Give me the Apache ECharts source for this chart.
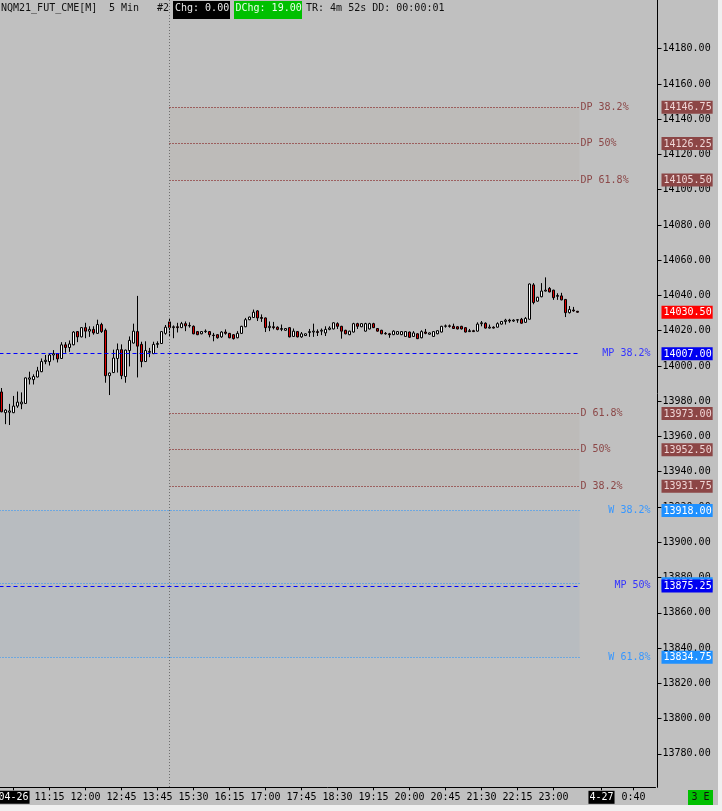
<!DOCTYPE html>
<html><head><meta charset="utf-8">
<script src="https://cdn.jsdelivr.net/npm/echarts@6/dist/echarts.min.js"></script>
<style>html,body{margin:0;padding:0;background:#f0f0f0;overflow:hidden}#c{position:absolute;left:0;top:0;width:718px;height:805px;}</style>
</head><body><div id="c"></div>
<script>
// ---- categories (5-minute bars) ----
const sessionA = ['10:15','10:20','10:25','10:30','10:35','10:40','10:45','10:50','10:55','11:00','11:05','11:10','11:15','11:20','11:25','11:30','11:35','11:40','11:45','11:50','11:55','12:00','12:05','12:10','12:15','12:20','12:25','12:30','12:35','12:40','12:45','12:50','12:55','13:00','13:05','13:10','13:30','13:35','13:40','13:45','13:50','13:55'];
const sessionB = ['15:00','15:05','15:10','15:15','15:20','15:25','15:30','15:35','15:40','15:45','15:50','15:55','16:00','16:05','16:10','16:15','16:20','16:25','16:30','16:35','16:40','16:45','16:50','16:55','17:00','17:05','17:10','17:15','17:20','17:25','17:30','17:35','17:40','17:45','17:50','17:55','18:00','18:05','18:10','18:15','18:20','18:25','18:30','18:35','18:40','18:45','18:50','18:55','19:00','19:05','19:10','19:15','19:20','19:25','19:30','19:35','19:40','19:45','19:50','19:55','20:00','20:05','20:10','20:15','20:20','20:25','20:30','20:35','20:40','20:45','20:50','20:55','21:00','21:05','21:10','21:15','21:20','21:25','21:30','21:35','21:40','21:45','21:50','21:55','22:00','22:05','22:10','22:15','22:20','22:25','22:30','22:35','22:40','22:45','22:50','22:55','23:00','23:05','23:10','23:15','23:20','23:25','23:30','23:35','23:40','23:45','23:50','23:55','0:00','0:05','0:10','0:15','0:20','0:25','0:30','0:35','0:40','0:45','0:50','0:55','1:00','1:05'];
const categories = sessionA.concat(sessionB);

// ---- x-axis labels ----
const timeLabels = ['11:15','12:00','12:45','13:45','15:30','16:15','17:00','17:45','18:30','19:15','20:00','20:45','21:30','22:15','23:00','0:40'];
const dateLabelAt = ['10:30','0:00'];
const dateLabelText = ['04-26','4-27'];

// ---- OHLC ----
const opens = [13985.25,13973.5,13973.75,13973.5,13977.25,13978.5,13978.75,13992.5,13992.25,13993.75,13996.75,14002.5,14002.5,14006.25,14007,14004.25,14012,14010.5,14012,14019.5,14016.5,14021.75,14019.75,14020.75,14018.5,14023.5,14020.25,13994.5,13996.25,14004.25,14009.25,13994,14008.75,14013,14019.5,14012.25,14002.5,14007.75,14007,14012.25,14012.75,14018.5,14025,14021.75,14022.25,14021.75,14024,14022.75,14022.5,14019.5,14018.25,14019.5,14019.5,14017.5,14017.75,14016.5,14019.25,14018.5,14017.75,14016,14018.5,14022.25,14026.25,14027.5,14031.25,14027.5,14027.25,14021.75,14022.25,14022,14020.75,14020.25,14021.75,14016.75,14019.5,14016.5,14017.25,14019,14019.25,14019.5,14019.75,14018.75,14020.75,14021,14024,14022.5,14020.25,14017.75,14019.25,14024,14022.25,14019.75,14021,14024,14021.25,14020.25,14018.5,14018.25,14017.75,14018,14017.75,14016.75,14019.25,14016.75,14018.25,14016,14019.25,14018,14016.75,14018.25,14019.25,14022.5,14022.75,14022.5,14022.25,14022.5,14021.75,14019.5,14020,14019.75,14024,14024.25,14021.5,14022,14022,14023.75,14025.25,14026,14025.5,14026,14026.5,14024.75,14026.5,14046,14036.75,14039.25,14042.5,14044,14043,14039.5,14039.75,14037.75,14030.25,14031.75,14031];
const closes = [13974,13975,13974.5,13977.25,13979.5,13979.5,13993.25,13993.25,13994,13997.25,14002.5,14003.25,14006.25,14007,14004,14012,14010.5,14012.5,14019.25,14016.5,14021.75,14019.75,14020.75,14018.75,14023.5,14019.5,13994.5,13996,14004.5,14009.25,13994.5,14009,14014.5,14019.75,14011.25,14002.5,14008.75,14008.25,14012.25,14012.75,14019.5,14022,14021.75,14022.25,14021.75,14024,14022.75,14023,14018.25,14017.75,14019.5,14019.75,14017.75,14017.25,14016,14019.25,14018.5,14016,14015.5,14018.5,14022.5,14026.25,14027.75,14030.5,14027.25,14027,14021.75,14022.5,14021.75,14020.75,14021.25,14021.25,14016.5,14019.75,14016.5,14018.25,14018.25,14019.5,14019.75,14019,14020.25,14020.75,14021.5,14024.5,14022.5,14019.75,14018.25,14019.75,14024,14022.5,14024,14024,14024,14021.75,14019.75,14018.25,14018.25,14017.75,14019.75,14019.5,14019.5,14019.5,14016.25,14018.75,14015.5,14019.5,14018.5,14018.75,14019.5,14020,14022.5,14022.75,14022.5,14021.25,14021,14021,14019.25,14020,14019.5,14023.75,14024.5,14021.5,14022,14021.5,14024,14025.25,14026,14025.5,14026,14026.25,14024.25,14027,14046.5,14036,14039,14042.5,14043,14042,14038.75,14040,14037.5,14030.25,14032,14031.25,14030.5];
const lows = [13973.75,13967,13966.5,13973.25,13976.25,13975.5,13978.5,13989.5,13989.5,13993.5,13996.5,14001,14000.25,14003.25,14002,14004,14007.5,14008,14011.75,14013.5,14016.25,14015.75,14016.5,14017.75,14018.25,14018.75,13990.5,13983.5,13996,13996.25,13992.5,13990.5,13999.75,14012.75,13993.5,13999.25,14002.25,14005,14006.75,14010.25,14012.5,14017.75,14016.75,14015.75,14019,14021.5,14019.75,14021.75,14018,14017.5,14018,14018.75,14016.25,14014,14015.5,14016,14017.75,14015.75,14015,14015.75,14018.25,14022,14026,14027.25,14025.5,14025,14019.25,14019.75,14020.75,14020.25,14019.75,14020,14016.25,14016.5,14016.25,14016,14017,14016.5,14016.5,14017,14017.5,14017,14020.25,14020.75,14021,14015.5,14018,14017.5,14019,14021,14022,14019.5,14020.75,14021.5,14019.5,14018,14017.75,14016,14017.5,14017.75,14017.5,14016.5,14016,14016.5,14015.25,14015.75,14018,14017.75,14016.5,14018,14019,14021.75,14021.75,14021,14020.75,14020.75,14019,14019.25,14019.25,14019.5,14022.5,14021.25,14021.25,14021.25,14021.75,14023.5,14023.5,14024.5,14025,14024.5,14024,14024.5,14026.25,14035,14036.5,14039,14042.25,14041.75,14037.5,14037.5,14037.25,14027.75,14029.75,14030.75,14030.25];
const highs = [13987.5,13975.5,13978.5,13983,13985.5,13985,13993.5,13996.75,13995.25,13999.5,14004.25,14006.25,14007,14009,14007.25,14013.5,14013.5,14014.5,14019.75,14019.75,14022,14024.5,14022.5,14022.5,14026.25,14024.5,14021.25,13996.25,14009.25,14012.75,14012.25,14009.25,14016.75,14024,14039.75,14013.75,14014,14010.25,14013.75,14014,14019.75,14023.25,14027.25,14023,14024.5,14025,14025.25,14024.75,14023,14019.75,14019.75,14020.75,14019.75,14018.75,14018,14019.75,14020.75,14018.75,14018,14019.75,14022.75,14027.25,14028,14032,14031.75,14029.25,14027.5,14025.25,14025,14022.5,14023.5,14021.5,14022,14021.25,14019.75,14019.25,14018.5,14021,14024,14020.75,14021.25,14022.5,14022.5,14024.75,14024.75,14022.75,14020.5,14020,14024.5,14024.5,14024.25,14024.5,14024.5,14024.5,14021.5,14020.5,14019.25,14018.75,14020.25,14019.75,14019.75,14019.75,14019.5,14019.75,14018.5,14020.25,14021,14019,14019.75,14020.25,14022.75,14023.5,14023.5,14024,14022.5,14022.75,14022,14021,14020.5,14024.75,14025.5,14024.75,14023.5,14022.5,14024.75,14025.5,14026.75,14026.75,14026.5,14026.5,14027.25,14027.75,14046.75,14047,14039.25,14047,14050.25,14044.75,14043.25,14041.25,14041.5,14038,14034,14033.5,14031.25];

// ---- levels ----
const levelNames  = ['DP 38.2%','DP 50%','DP 61.8%','MP 38.2%','D 61.8%','D 50%','D 38.2%','W 38.2%','W 50%','MP 50%','W 61.8%'];
const levelPrices = [14146.75,14126.25,14105.50,14007.00,13973.00,13952.50,13931.75,13918.00,13876.50,13875.25,13834.75];
const priceTicks  = [13780,13800,13820,13840,13860,13880,13900,13920,13940,13960,13980,14000,14020,14040,14060,14080,14100,14120,14140,14160,14180];

const MONO = 'DejaVu Sans Mono';
const kindStyle = {
  DP: {line:'#7a0000', type:[1,2], text:'#8b4747', box:'#8c4646', boxText:'#f0d6d6'},
  D:  {line:'#7a0000', type:[1,2], text:'#8b4747', box:'#8c4646', boxText:'#f0d6d6'},
  MP: {line:'#0000ff', type:[4,3], text:'#3434ff', box:'#0000f0', boxText:'#ffffff'},
  W:  {line:'#1e90ff', type:[1,2], text:'#3797ff', box:'#1e90ff', boxText:'#ffffff'}
};
const kindOf = n => n.split(' ')[0];

const N = categories.length;
const sessionStart = categories.indexOf('15:00') + 0.5;
const levelEnd = opens.length;
const lastClose = closes[closes.length - 1];
const Y_MIN = 13761, Y_MAX = 14207.6;

const candleData = opens.map((o, i) => [o, closes[i], lows[i], highs[i]]);

const markLines = levelNames.map((name, i) => {
  const k = kindOf(name), s = kindStyle[k];
  const x0 = (k === 'DP' || k === 'D') ? sessionStart : 0;
  const right = (k === 'MP' || k === 'W');
  const hideLabel = name === 'W 50%';
  return [{
    coord: [x0, levelPrices[i]],
    lineStyle: {color: s.line, type: s.type, width: 1},
    label: right ? {
      show: !hideLabel, position: 'end', distance: 0,
      formatter: '{r|' + name + '}',
      rich: {r: {width: 71, align: 'right', color: s.text, fontFamily: MONO, fontSize: 10}}
    } : {
      show: true, position: 'end', distance: 1, formatter: name,
      color: s.text, fontFamily: MONO, fontSize: 10
    }
  }, {coord: [levelEnd, levelPrices[i]]}];
});
markLines.push([{coord:[sessionStart, Y_MAX], lineStyle:{color:'#6e6e6e', type:[1,2], width:1}, label:{show:false}}, {coord:[sessionStart, Y_MIN]}]);

const zoneDef = [
  ['DP 38.2%','DP 61.8%','#bdbbb9'],
  ['D 61.8%','D 38.2%','#bdbbb9'],
  ['W 38.2%','W 61.8%','#b8bcc0']
];
const markAreas = zoneDef.map(z => {
  const a = levelPrices[levelNames.indexOf(z[0])], b = levelPrices[levelNames.indexOf(z[1])];
  const x0 = kindOf(z[0]) === 'W' ? 0 : sessionStart;
  return [{coord:[x0, a], itemStyle:{color:z[2]}}, {coord:[levelEnd, b]}];
});

// price boxes on the axis
const boxPrices = [], boxStyles = [];
levelNames.forEach((n, i) => { boxPrices.push(levelPrices[i]); boxStyles.push(kindOf(n)); });
boxPrices.splice(3, 0, lastClose); boxStyles.splice(3, 0, 'LAST');
const rich = {};
Object.keys(kindStyle).forEach(k => {
  rich[k] = {backgroundColor: kindStyle[k].box, color: kindStyle[k].boxText, padding: [2,1,1,2], fontFamily: MONO, fontSize: 10, lineHeight: 10};
});
rich.LAST = {backgroundColor:'#ff0000', color:'#ffffff', padding:[2,1,1,2], fontFamily: MONO, fontSize: 10, lineHeight: 10};

const labelShown = (idx, val) => timeLabels.indexOf(val) >= 0 || dateLabelAt.indexOf(val) >= 0;

const chart = echarts.init(document.getElementById('c'));
chart.setOption({
  backgroundColor: '#c0c0c0',
  animation: false,
  grid: {left: -0.5, top: 0, width: 656, height: 787.3, containLabel: false, outerBoundsMode: 'none'},
  xAxis: [{
    type: 'category', data: categories, boundaryGap: true,
    axisLine: {show: true, onZero: false, lineStyle: {color: '#000', width: 1}},
    axisTick: {show: true, alignWithLabel: true, interval: labelShown, length: 3, lineStyle: {color: '#000'}},
    axisLabel: {
      interval: labelShown, margin: 5, color: '#000', fontFamily: MONO, fontSize: 10, hideOverlap: false,
      formatter: v => {
        const d = dateLabelAt.indexOf(v);
        return d >= 0 ? '{d|' + dateLabelText[d] + '}' : v;
      },
      rich: {d: {backgroundColor: '#000', color: '#ffffff', padding: [2,1,1,1], fontFamily: MONO, fontSize: 10, lineHeight: 10}}
    },
    splitLine: {show: false}
  }, {
    type: 'value', min: 0, max: N, show: false
  }],
  yAxis: [{
    type: 'value', min: Y_MIN, max: Y_MAX, position: 'right', offset: 2,
    axisLine: {show: true, onZero: false, lineStyle: {color: '#000'}},
    axisTick: {show: true, customValues: priceTicks, length: 4, lineStyle: {color: '#000'}},
    axisLabel: {customValues: priceTicks, margin: 5, color: '#000', fontFamily: MONO, fontSize: 10, formatter: v => v.toFixed(2)},
    splitLine: {show: false}
  }, {
    type: 'value', min: Y_MIN, max: Y_MAX, position: 'right', offset: 2, z: 5,
    axisLine: {show: false, onZero: false}, axisTick: {show: false},
    axisLabel: {
      customValues: boxPrices, margin: 4, fontFamily: MONO, fontSize: 10,
      formatter: v => { const i = boxPrices.indexOf(v); return '{' + boxStyles[i] + '|' + v.toFixed(2) + '}'; },
      rich: rich
    },
    splitLine: {show: false}
  }],
  series: [{
    type: 'line', xAxisIndex: 1, yAxisIndex: 0, data: [], z: 1, silent: true,
    markArea: {silent: true, data: markAreas},
    markLine: {silent: true, symbol: ['none','none'], animation: false, data: markLines}
  }, {
    type: 'candlestick', xAxisIndex: 0, yAxisIndex: 0, z: 4, barWidth: 2,
    data: candleData,
    itemStyle: {color: '#ffffff', color0: '#e00000', borderColor: '#000', borderColor0: '#000', borderColorDoji: '#000', borderWidth: 1}
  }],
  graphic: [
    {type:'text', x:1, y:8, style:{text:'NQM21_FUT_CME[M]', font:'10px "DejaVu Sans Mono"', fill:'#101010', verticalAlign:'middle'}},
    {type:'text', x:109, y:8, style:{text:'5 Min', font:'10px "DejaVu Sans Mono"', fill:'#101010', verticalAlign:'middle'}},
    {type:'text', x:157, y:8, style:{text:'#2', font:'10px "DejaVu Sans Mono"', fill:'#101010', verticalAlign:'middle'}},
    {type:'rect', shape:{x:173, y:1, width:57, height:18}, style:{fill:'#000'}},
    {type:'text', x:175, y:8, style:{text:'Chg: 0.00', font:'10px "DejaVu Sans Mono"', fill:'#e8e8e8', verticalAlign:'middle'}},
    {type:'rect', shape:{x:234, y:1, width:68, height:18}, style:{fill:'#00c000'}},
    {type:'text', x:235.5, y:8, style:{text:'DChg: 19.00', font:'10px "DejaVu Sans Mono"', fill:'#e8ffe8', verticalAlign:'middle'}},
    {type:'text', x:306, y:8, style:{text:'TR: 4m 52s DD: 00:00:01', font:'10px "DejaVu Sans Mono"', fill:'#101010', verticalAlign:'middle'}},
    {type:'rect', shape:{x:688, y:790, width:25, height:15}, style:{fill:'#00c000'}},
    {type:'text', x:700.5, y:797.5, style:{text:'3 E', font:'10px "DejaVu Sans Mono"', fill:'#101010', align:'center', verticalAlign:'middle'}}
  ]
});
</script>
</body></html>
